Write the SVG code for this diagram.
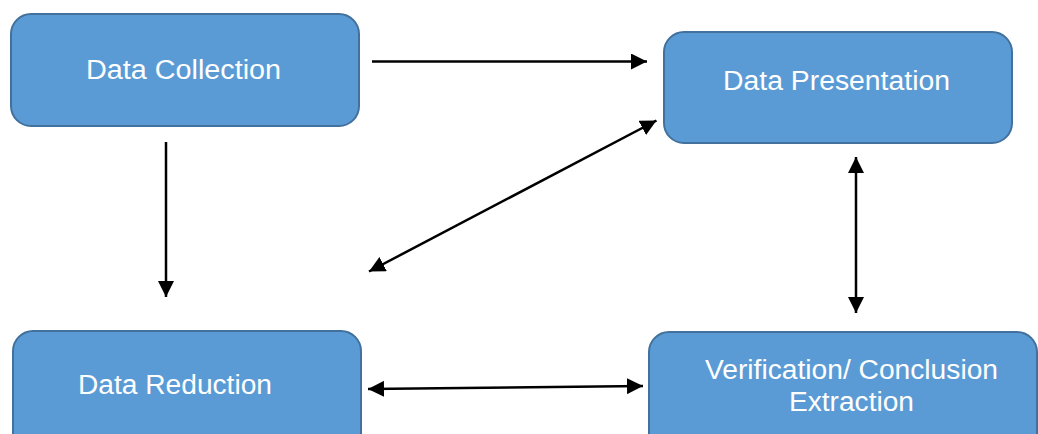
<svg xmlns="http://www.w3.org/2000/svg" width="1038" height="434" viewBox="0 0 1038 434">
<style>
.box{fill:#5B9BD5;stroke:#41719C;stroke-width:2}
.lbl{font-family:"Liberation Sans",Arial,sans-serif;font-size:27px;fill:#FFFFFF;text-anchor:middle}
.conn{stroke:#000;stroke-width:2.5;fill:none}
</style>
<defs>
<marker id="ah" viewBox="0 0 16 16" refX="16" refY="8" markerWidth="16" markerHeight="16" markerUnits="userSpaceOnUse" orient="auto-start-reverse">
<path d="M0,0 L16,8 L0,16 z" fill="#000"/>
</marker>
</defs>
<rect width="1038" height="434" fill="#FFFFFF"/>
<g id="node-collection">
<rect class="box" x="11" y="14" width="348" height="112" rx="20"/>
<text class="lbl" x="183.5" y="79" textLength="195" lengthAdjust="spacingAndGlyphs">Data Collection</text>
</g>
<g id="node-presentation">
<rect class="box" x="664" y="32" width="348" height="111" rx="20"/>
<text class="lbl" x="836.5" y="90" textLength="227" lengthAdjust="spacingAndGlyphs">Data Presentation</text>
</g>
<g id="node-reduction">
<rect class="box" x="13" y="331" width="348" height="130" rx="20"/>
<text class="lbl" x="175" y="394" textLength="194" lengthAdjust="spacingAndGlyphs">Data Reduction</text>
</g>
<g id="node-verification">
<rect class="box" x="649" y="332" width="388" height="130" rx="20"/>
<text class="lbl" x="851.5" y="379" textLength="293" lengthAdjust="spacingAndGlyphs">Verification/ Conclusion</text>
<text class="lbl" x="851.5" y="411" textLength="125" lengthAdjust="spacingAndGlyphs">Extraction</text>
</g>
<g id="connectors">
<line class="conn" x1="372" y1="61.5" x2="647" y2="61.5" marker-end="url(#ah)"/>
<line class="conn" x1="166" y1="142" x2="166" y2="297" marker-end="url(#ah)"/>
<line class="conn" x1="369" y1="271.5" x2="656.5" y2="120.5" marker-start="url(#ah)" marker-end="url(#ah)"/>
<line class="conn" x1="856" y1="157" x2="856" y2="313" marker-start="url(#ah)" marker-end="url(#ah)"/>
<line class="conn" x1="368" y1="389" x2="643" y2="386" marker-start="url(#ah)" marker-end="url(#ah)"/>
</g>
</svg>
